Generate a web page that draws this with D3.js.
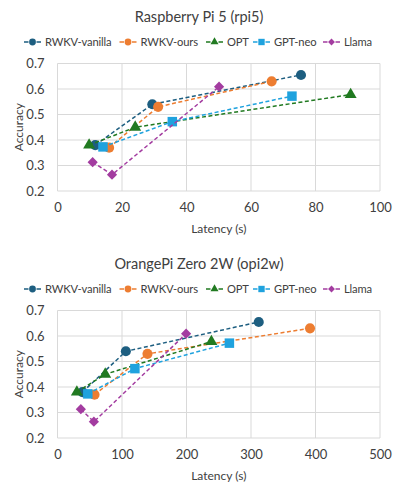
<!DOCTYPE html>
<html>
<head>
<meta charset="utf-8">
<script src="https://cdn.jsdelivr.net/npm/d3@7"></script>
<style>
  body { margin: 0; background: #fff; }
  text { font-family: Lato, "Open Sans", sans-serif; fill: #404040; }
</style>
</head>
<body>
<div id="chart"></div>
<script>
// series names + colors
let seriesNames = ["RWKV-vanilla", "RWKV-ours", "OPT", "GPT-neo", "Llama"];
let seriesColors = ["#1d5e80", "#ed7d31", "#217a21", "#1fa2de", "#a33ca0"];
let seriesShapes = ["circle", "circle", "triangle", "square", "diamond"];

// accuracy is the same on both boards
let accVanilla = [0.38, 0.54, 0.655];
let accOurs = [0.37, 0.53, 0.63];
let accOpt = [0.38, 0.45, 0.578];
let accNeo = [0.373, 0.472, 0.572];
let accLlama = [0.313, 0.264, 0.609];

// latency (s) on rpi5
let rpiVanilla = [11.7, 29.4, 75.5];
let rpiOurs = [16.0, 31.2, 66.4];
let rpiOpt = [9.8, 24.1, 90.9];
let rpiNeo = [14.1, 35.6, 72.7];
let rpiLlama = [10.9, 16.9, 50.1];

// latency (s) on opi2w
let opiVanilla = [38.7, 106, 312];
let opiOurs = [57.4, 139.5, 391.5];
let opiOpt = [30, 74, 238.6];
let opiNeo = [47, 120, 266.5];
let opiLlama = [36.2, 56.4, 199.4];

let yTicks = [0.2, 0.3, 0.4, 0.5, 0.6, 0.7];
let rpiTicks = [0, 20, 40, 60, 80, 100];
let opiTicks = [0, 100, 200, 300, 400, 500];

let accAll = [accVanilla, accOurs, accOpt, accNeo, accLlama];

let svgWidth = 399, svgHeight = 491;
let svg = d3.select("#chart").append("svg")
            .attr("width", svgWidth)
            .attr("height", svgHeight);

// marker paths, big for the plot and small for the legend
function shapePath(shape, small) {
    let k = small ? 0.45 : 1;
    if (shape == "circle") return d3.symbol(d3.symbolCircle, 80 * k)();
    if (shape == "triangle") return d3.symbol(d3.symbolTriangle, 62 * k)();
    if (shape == "square") return d3.symbol(d3.symbolSquare, 90 * k)();
    return d3.symbol(d3.symbolSquare, 52 * k)();
}

function drawPanel(top, title, lat, xTicks, xMax) {
    let left = 57.5, right = 380;
    let plotTop = top + 63.5, plotBottom = top + 191;

    let xScale = d3.scaleLinear().domain([0, xMax]).range([left, right]);
    let yScale = d3.scaleLinear().domain([0.2, 0.7]).range([plotBottom, plotTop]);

    // title
    svg.append("text")
       .attr("x", 199).attr("y", top + 22)
       .attr("text-anchor", "middle")
       .style("font-size", "14.5px")
       .text(title);

    // legend
    let legendX = [24, 119.5, 206, 253, 323];
    seriesNames.forEach(function(name, i) {
        let g = svg.append("g").attr("transform", `translate(${legendX[i]},${top + 42})`);
        g.append("line").attr("x1", 0).attr("x2", 17).attr("y1", 0).attr("y2", 0)
         .attr("stroke", seriesColors[i]).attr("stroke-width", 1.5)
         .attr("stroke-dasharray", "4.5,8,4.5");
        g.append("path").attr("d", shapePath(seriesShapes[i], true))
         .attr("transform", "translate(8.5,0)" + (seriesShapes[i] == "diamond" ? " rotate(45)" : ""))
         .attr("fill", seriesColors[i]);
        g.append("text").attr("x", 21).attr("y", 4)
         .style("font-size", "11.2px")
         .style("letter-spacing", "-0.15px")
         .text(name);
    });

    // gridlines
    svg.append("g").selectAll("line").data(xTicks).enter().append("line")
       .attr("x1", d => xScale(d)).attr("x2", d => xScale(d))
       .attr("y1", plotTop).attr("y2", plotBottom)
       .attr("stroke", "#d9d9d9").attr("stroke-width", 1);
    svg.append("g").selectAll("line").data(yTicks).enter().append("line")
       .attr("x1", left).attr("x2", right)
       .attr("y1", d => yScale(d)).attr("y2", d => yScale(d))
       .attr("stroke", "#d9d9d9").attr("stroke-width", 1);

    // axes (labels only)
    let xAxis = svg.append("g")
        .attr("transform", `translate(0,${plotBottom})`)
        .call(d3.axisBottom(xScale).tickValues(xTicks).tickSize(0).tickPadding(12));
    let yAxis = svg.append("g")
        .attr("transform", `translate(${left},0)`)
        .call(d3.axisLeft(yScale).tickValues(yTicks).tickFormat(d3.format(".1f")).tickSize(0).tickPadding(13));
    [xAxis, yAxis].forEach(function(a) {
        a.select(".domain").remove();
        a.selectAll("text").style("font-size", "13px")
         .style("font-family", "Lato, sans-serif").attr("fill", "#404040");
    });

    svg.append("text")
       .attr("transform", `translate(${(left + right) / 2},${plotBottom + 42})`)
       .attr("text-anchor", "middle")
       .style("font-size", "12px")
       .text("Latency (s)");
    svg.append("text")
       .attr("transform", `translate(23,${(plotTop + plotBottom) / 2}) rotate(-90)`)
       .attr("text-anchor", "middle")
       .style("font-size", "12px")
       .text("Accuracy");

    // series
    let line = d3.line().x(d => xScale(d[0])).y(d => yScale(d[1]));
    seriesNames.forEach(function(name, i) {
        let pts = lat[i].map((x, j) => [x, accAll[i][j]]);
        svg.append("path").datum(pts)
           .attr("d", line)
           .attr("fill", "none")
           .attr("stroke", seriesColors[i])
           .attr("stroke-width", 1.5)
           .attr("stroke-dasharray", "4,2.5");
        svg.append("g").selectAll("path").data(pts).enter().append("path")
           .attr("d", shapePath(seriesShapes[i], false))
           .attr("transform", d => `translate(${xScale(d[0])},${yScale(d[1])})` +
                 (seriesShapes[i] == "diamond" ? " rotate(45)" : ""))
           .attr("fill", seriesColors[i]);
    });
}

drawPanel(0, "Raspberry Pi 5 (rpi5)",
          [rpiVanilla, rpiOurs, rpiOpt, rpiNeo, rpiLlama], rpiTicks, 100);
drawPanel(247, "OrangePi Zero 2W (opi2w)",
          [opiVanilla, opiOurs, opiOpt, opiNeo, opiLlama], opiTicks, 500);
</script>
</body>
</html>
